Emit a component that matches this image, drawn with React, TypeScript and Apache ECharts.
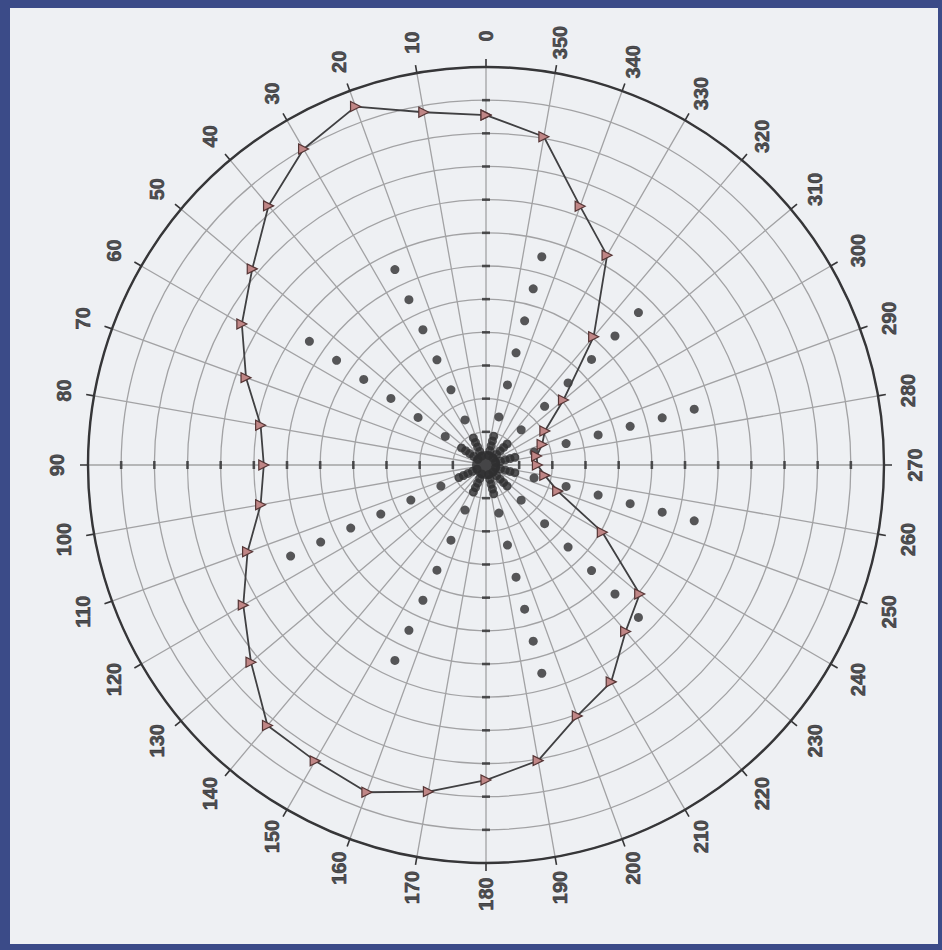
import React, { useEffect, useRef } from "react";
import * as echarts from "echarts";

// Angle axis (degrees, 0 at top, counter-clockwise)
const angleValues = [0, 10, 20, 30, 40, 50, 60, 70, 80, 90, 100, 110, 120, 130, 140, 150, 160, 170, 180, 190, 200, 210, 220, 230, 240, 250, 260, 270, 280, 290, 300, 310, 320, 330, 340, 350];
const angleTickLabels = ["0", "10", "20", "30", "40", "50", "60", "70", "80", "90", "100", "110", "120", "130", "140", "150", "160", "170", "180", "190", "200", "210", "220", "230", "240", "250", "260", "270", "280", "290", "300", "310", "320", "330", "340", "350"];

// Pattern (triangle-marker line), radius in grid units (0..12), one per angle above
const patternRadius = [10.55, 10.8, 11.5, 11.0, 10.2, 9.2, 8.5, 7.7, 6.9, 6.7, 6.9, 7.65, 8.45, 9.25, 10.25, 10.3, 10.5, 10.0, 9.5, 9.05, 8.05, 7.55, 6.55, 6.05, 4.05, 2.3, 1.8, 1.55, 1.55, 1.8, 2.05, 3.05, 5.05, 7.3, 8.3, 10.05];

// Dot rays: angles and the radii of the dots on each ray
const dotRayAngles = [25, 55, 115, 155, 195, 225, 255, 285, 315, 345];
const dotRayRadii = [1.5, 2.5, 3.5, 4.5, 5.5, 6.5];
// Dense dots near the centre forming the dark star
const starRadii = [0.3, 0.45, 0.6, 0.75, 0.9];

// Radius grid rings carrying small tick dashes on the 0/90/180/270 spokes
const gridRings = [1, 2, 3, 4, 5, 6, 7, 8, 9, 10, 11];
const verticalSpokes = [0, 180];
const horizontalSpokes = [90, 270];

export default function App() {
  const ref = useRef<HTMLDivElement>(null);

  useEffect(() => {
    const chart = echarts.init(ref.current!, null, { renderer: "svg" });
    const center = [476, 457];
    const R = 398;

    const lineData = angleValues.map((a, i) => [patternRadius[i], a]);
    lineData.push([patternRadius[0], 360]);

    const dotData: number[][] = [];
    dotRayAngles.forEach((a) => dotRayRadii.forEach((r) => dotData.push([r, a])));
    const starData: number[][] = [];
    dotRayAngles.forEach((a) => starRadii.forEach((r) => starData.push([r, a])));

    const vDash: number[][] = [];
    gridRings.forEach((k) => verticalSpokes.forEach((a) => vDash.push([k, a])));
    const hDash: number[][] = [];
    gridRings.forEach((k) => horizontalSpokes.forEach((a) => hDash.push([k, a])));

    const gridColor = "#a2a2a4";
    const dark = "#2e2e30";

    const option: any = {
      animation: false,
      polar: [
        { center, radius: R },
        { center, radius: 429 },
      ],
      angleAxis: [
        {
          polarIndex: 0,
          type: "value",
          min: 0,
          max: 360,
          interval: 10,
          startAngle: 90,
          clockwise: false,
          axisLine: { show: true, lineStyle: { color: "#363638", width: 2.4 } },
          axisTick: { show: true, length: 8, lineStyle: { color: "#363638", width: 1.6 } },
          axisLabel: { show: false },
          splitLine: { show: true, lineStyle: { color: gridColor, width: 1.3 } },
        },
        {
          polarIndex: 1,
          type: "value",
          min: 0,
          max: 360,
          startAngle: 90,
          clockwise: false,
          axisLine: { show: false },
          axisTick: { show: false },
          axisLabel: { show: false },
          splitLine: { show: false },
        },
      ],
      radiusAxis: [
        {
          polarIndex: 0,
          type: "value",
          min: 0,
          max: 12,
          interval: 1,
          axisLine: { show: false },
          axisTick: { show: false },
          axisLabel: { show: false },
          splitLine: { show: true, lineStyle: { color: gridColor, width: 1.3 } },
        },
        {
          polarIndex: 1,
          type: "value",
          min: 0,
          max: 1,
          axisLine: { show: false },
          axisTick: { show: false },
          axisLabel: { show: false },
          splitLine: { show: false },
        },
      ],
      series: [
        {
          type: "scatter",
          coordinateSystem: "polar",
          polarIndex: 0,
          symbol: "rect",
          symbolSize: [8, 2.6],
          itemStyle: { color: dark },
          data: vDash,
          silent: true,
          z: 3,
        },
        {
          type: "scatter",
          coordinateSystem: "polar",
          polarIndex: 0,
          symbol: "rect",
          symbolSize: [2.6, 8],
          itemStyle: { color: dark },
          data: hDash,
          silent: true,
          z: 3,
        },
        {
          type: "scatter",
          coordinateSystem: "polar",
          polarIndex: 0,
          symbol: "circle",
          symbolSize: 9,
          itemStyle: { color: dark },
          data: dotData,
          silent: true,
          z: 4,
        },
        {
          type: "scatter",
          coordinateSystem: "polar",
          polarIndex: 0,
          symbol: "circle",
          symbolSize: 9,
          itemStyle: { color: dark },
          data: starData,
          silent: true,
          z: 4,
        },
        {
          type: "scatter",
          coordinateSystem: "polar",
          polarIndex: 0,
          symbol: "circle",
          symbolSize: 28,
          itemStyle: { color: dark },
          data: [[0, 0]],
          silent: true,
          z: 4,
        },
        {
          type: "line",
          coordinateSystem: "polar",
          polarIndex: 0,
          data: lineData,
          symbol: "triangle",
          symbolRotate: -90,
          symbolSize: [10, 10],
          showAllSymbol: true,
          lineStyle: { color: "#404042", width: 1.8 },
          itemStyle: { color: "#c08686", borderColor: "#553535", borderWidth: 1.2 },
          silent: true,
          z: 5,
        },
        {
          type: "scatter",
          coordinateSystem: "polar",
          polarIndex: 1,
          symbol: "circle",
          symbolSize: 1,
          itemStyle: { color: "rgba(0,0,0,0)" },
          data: angleValues.map((a) => [1, a]),
          silent: true,
          label: {
            show: true,
            position: "inside",
            rotate: 90,
            formatter: (p: any) => angleTickLabels[p.dataIndex],
            fontFamily: "Liberation Sans, Arial, sans-serif",
            fontWeight: "bold",
            fontSize: 20,
            color: "#232325",
            textBorderColor: "#232325",
            textBorderWidth: 0.6,
          },
          z: 6,
        },
      ],
    };

    chart.setOption(option);
    return () => chart.dispose();
  }, []);

  return (
    <div
      style={{
        position: "absolute",
        left: 0,
        top: 0,
        width: 942,
        height: 950,
        background: "#3b4b88",
      }}
    >
      <div
        ref={ref}
        style={{
          position: "absolute",
          left: 10,
          top: 8,
          width: 928,
          height: 936,
          background: "#eef0f3",
        }}
      />
    </div>
  );
}
